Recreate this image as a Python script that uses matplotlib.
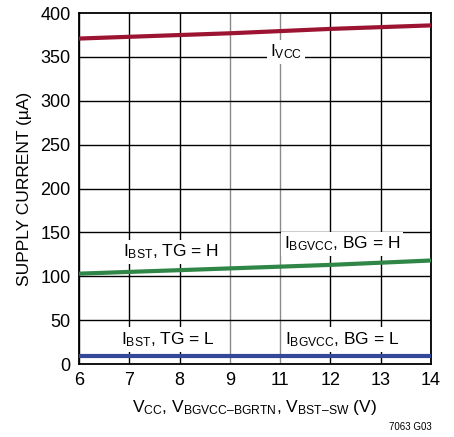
import matplotlib
matplotlib.use("Agg")
import matplotlib.pyplot as plt

plt.rcParams['font.family'] = ['Liberation Sans', 'DejaVu Sans']
plt.rcParams['mathtext.fontset'] = 'custom'
plt.rcParams['mathtext.rm'] = 'Liberation Sans'
plt.rcParams['mathtext.default'] = 'rm'

# tick labels along the x axis (10 V is skipped on this axis)
x_labels = [6, 7, 8, 9, 11, 12, 13, 14]
x_pos = list(range(len(x_labels)))

# supply current in uA at each tick
i_vcc = [371, 373, 375, 377, 379.5, 382, 384, 386]
i_high = [103, 105, 107, 109, 111, 113, 115.5, 118]
i_low = [9, 9, 9, 9, 9, 9, 9, 9]

fig = plt.figure(figsize=(4.54, 4.37), dpi=100)
ax = fig.add_axes([0.174, 0.167, 0.775, 0.803])

# grid: black lines, grey at the 9/11 split
for i in x_pos:
    c = '#8a8a8a' if i in (3, 4) else 'black'
    ax.axvline(i, color=c, lw=1, zorder=1)
for y in range(50, 400, 50):
    ax.axhline(y, color='black', lw=1, zorder=1)

ax.plot(x_pos, i_vcc, color='#9c1432', lw=3, zorder=3)
ax.plot(x_pos, i_high, color='#2f8647', lw=3, zorder=3)
ax.plot(x_pos, i_low, color='#34489a', lw=3, zorder=3)

box = dict(facecolor='white', edgecolor='none', pad=2)
fs = 12.5
ax.text(4.12, 356, r'$I_{VCC}$', fontsize=fs, ha='center', va='center', bbox=box, zorder=4)
ax.text(1.83, 128, r'$I_{BST}$, TG = H', fontsize=fs, ha='center', va='center', bbox=box, zorder=4)
ax.text(5.23, 137, r'$I_{BGVCC}$, BG = H', fontsize=fs, ha='center', va='center', bbox=box, zorder=4)
ax.text(1.77, 28, r'$I_{BST}$, TG = L', fontsize=fs, ha='center', va='center', bbox=box, zorder=4)
ax.text(5.23, 28, r'$I_{BGVCC}$, BG = L', fontsize=fs, ha='center', va='center', bbox=box, zorder=4)

ax.set_xlim(0, 7)
ax.set_ylim(0, 400)
ax.set_xticks(x_pos)
ax.set_xticklabels([str(v) for v in x_labels])
ax.set_yticks(range(0, 401, 50))
ax.tick_params(length=0, labelsize=13, pad=6)
for s in ax.spines.values():
    s.set_linewidth(1.3)

ax.set_ylabel('SUPPLY CURRENT (\u00b5A)', fontsize=12.5, labelpad=6)
ax.set_xlabel('$V_{CC}$, $V_{BGVCC\u2013BGRTN}$, $V_{BST\u2013SW}$ (V)', fontsize=12.5, labelpad=6)
fig.text(0.905, 0.015, '7063 G03', fontsize=7, ha='center')

fig.savefig('out.png', dpi=100)
